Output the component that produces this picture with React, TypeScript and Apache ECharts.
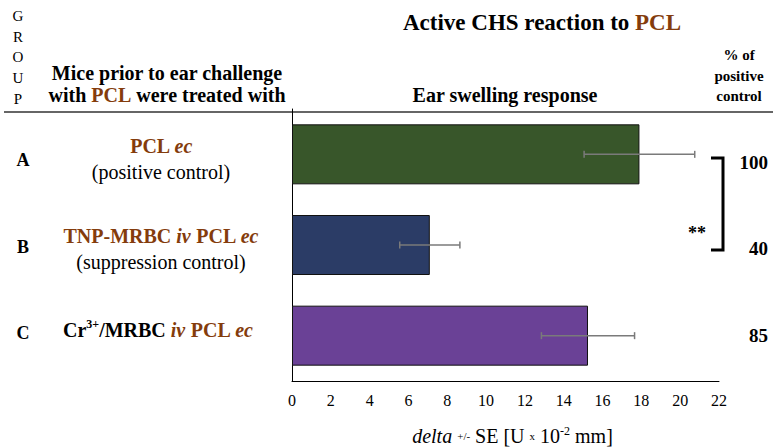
import React, { useEffect, useRef } from "react";
import * as echarts from "echarts";

const groups = ["A", "B", "C"];
const means = [17.9, 7.1, 15.25];
const errors = [2.85, 1.55, 2.4];
const percents = ["100", "40", "85"];
const barColors = ["#38562A", "#2B3C66", "#6A4196"];
const xMin = 0;
const xMax = 22;
const xInterval = 2;

const SERIF = "Liberation Serif";
const BROWN = "#843C0C";

const t = (x: number, y: number, text: string, size: number, weight: string, extra: any = {}) => ({
  type: "text",
  x,
  y,
  style: {
    text,
    font: `${weight} ${size}px "Liberation Serif", serif`,
    fontSize: size,
    fontFamily: SERIF,
    fontWeight: weight,
    fill: "#000",
    textAlign: "center",
    textVerticalAlign: "middle",
    ...extra,
  },
});

export default function App() {
  const ref = useRef<HTMLDivElement>(null);
  useEffect(() => {
    if (!ref.current) return;
    const chart = echarts.init(ref.current, null, { renderer: "svg" });
    const letterY = [160, 247, 333];
    const pctY = [162, 248, 335];
    const graphic: any[] = [];
    "GROUP".split("").forEach((ch, i) => {
      graphic.push(t(18, 16 + i * 20.7, ch, 15, "normal"));
    });
    const H = 20;
    graphic.push(
      t(403, 22, "{b|Active CHS reaction to }{br|PCL}", 23, "bold", {
        textAlign: "left",
        rich: {
          b: { fontSize: 23, fontWeight: "bold", fontFamily: SERIF, fill: "#000" },
          br: { fontSize: 23, fontWeight: "bold", fontFamily: SERIF, fill: BROWN },
        },
      })
    );
    graphic.push(t(167, 73, "Mice prior to ear challenge", H, "bold"));
    graphic.push(
      t(167, 95, "{b|with }{br|PCL}{b| were treated with}", H, "bold", {
        rich: {
          b: { fontSize: H, fontWeight: "bold", fontFamily: SERIF, fill: "#000" },
          br: { fontSize: H, fontWeight: "bold", fontFamily: SERIF, fill: BROWN },
        },
      })
    );
    graphic.push(t(505, 95, "Ear swelling response", H, "bold"));
    graphic.push(t(739, 55, "% of", 15, "bold"));
    graphic.push(t(739, 76, "positive", 15, "bold"));
    graphic.push(t(739, 96, "control", 15, "bold"));
    graphic.push({
      type: "line",
      shape: { x1: 4, y1: 112, x2: 773, y2: 112 },
      style: { stroke: "#333", lineWidth: 1.5 },
    });
    groups.forEach((g, i) => {
      graphic.push(t(23, letterY[i], g, 18, "bold"));
      graphic.push(t(768, pctY[i], percents[i], 19, "bold", { textAlign: "right" }));
    });
    const richBase = {
      br: { fontSize: H, fontWeight: "bold", fontFamily: SERIF, fill: BROWN, lineHeight: 24 },
      bri: { fontSize: H, fontWeight: "bold", fontStyle: "italic", fontFamily: SERIF, fill: BROWN, lineHeight: 24 },
      bk: { fontSize: H, fontWeight: "bold", fontFamily: SERIF, fill: "#000", lineHeight: 24 },
      sup: { fontSize: 12, fontWeight: "bold", fontFamily: SERIF, fill: "#000", lineHeight: 14, verticalAlign: "top" },
    };
    graphic.push(t(161, 146, "{br|PCL }{bri|ec}", H, "bold", { rich: richBase }));
    graphic.push(t(161, 172, "(positive control)", H, "normal"));
    graphic.push(t(161, 236, "{br|TNP-MRBC }{bri|iv}{br| PCL }{bri|ec}", H, "bold", { rich: richBase }));
    graphic.push(t(161, 262, "(suppression control)", H, "normal"));
    graphic.push(
      t(158, 330, "{bk|Cr}{sup|3+}{bk|/MRBC }{bri|iv}{br| PCL }{bri|ec}", H, "bold", { rich: richBase })
    );
    graphic.push({
      type: "polyline",
      shape: { points: [[711, 158], [723, 158], [723, 250], [711, 250]] },
      style: { stroke: "#000", lineWidth: 3, fill: "none" },
    });
    graphic.push(t(697, 233, "**", 18, "bold"));

    chart.setOption({
      animation: false,
      textStyle: { fontFamily: SERIF },
      grid: { left: 292, right: 54, top: 109, bottom: 67, outerBoundsMode: "none", containLabel: false },
      xAxis: {
        type: "value",
        min: xMin,
        max: xMax,
        interval: xInterval,
        axisLine: { show: true, lineStyle: { color: "#000", width: 1 } },
        axisTick: { show: false },
        splitLine: { show: false },
        axisLabel: { fontFamily: SERIF, fontSize: 16, color: "#000", margin: 11 },
        name: "{i|delta} {s|+/-} SE [U {s|x} 10{sup|-2} mm]",
        nameLocation: "middle",
        nameGap: 44,
        nameTextStyle: {
          fontFamily: SERIF,
          fontSize: 20,
          color: "#000",
          padding: [0, 0, 0, 14],
          rich: {
            i: { fontFamily: SERIF, fontSize: 20, fontStyle: "italic", color: "#000", lineHeight: 22 },
            s: { fontFamily: SERIF, fontSize: 11, color: "#000", lineHeight: 22 },
            sup: { fontFamily: SERIF, fontSize: 12, color: "#000", lineHeight: 14, verticalAlign: "top" },
          },
        },
      },
      yAxis: {
        type: "category",
        data: groups,
        inverse: true,
        axisLine: { show: true, lineStyle: { color: "#000", width: 1 } },
        axisTick: { show: false },
        axisLabel: { show: false },
        splitLine: { show: false },
      },
      series: [
        {
          type: "bar",
          barWidth: 60,
          data: means.map((m, i) => ({
            value: m,
            itemStyle: { color: barColors[i], borderColor: "#111", borderWidth: 1 },
          })),
        },
        {
          type: "custom",
          data: means.map((m, i) => [i, m - errors[i], m + errors[i]]),
          encode: { x: [1, 2], y: 0 },
          z: 5,
          renderItem: (params: any, api: any) => {
            const cat = api.value(0);
            const lo = api.coord([api.value(1), cat]);
            const hi = api.coord([api.value(2), cat]);
            const h = 3.5;
            const st = { stroke: "#7a7a7a", lineWidth: 1.5 };
            return {
              type: "group",
              children: [
                { type: "line", shape: { x1: lo[0], y1: lo[1], x2: hi[0], y2: hi[1] }, style: st },
                { type: "line", shape: { x1: lo[0], y1: lo[1] - h, x2: lo[0], y2: lo[1] + h }, style: st },
                { type: "line", shape: { x1: hi[0], y1: hi[1] - h, x2: hi[0], y2: hi[1] + h }, style: st },
              ],
            };
          },
        },
      ],
      graphic,
    });
    return () => chart.dispose();
  }, []);
  return (
    <div
      ref={ref}
      style={{ position: "fixed", left: 0, top: 0, width: 773, height: 448, background: "#fff" }}
    />
  );
}
